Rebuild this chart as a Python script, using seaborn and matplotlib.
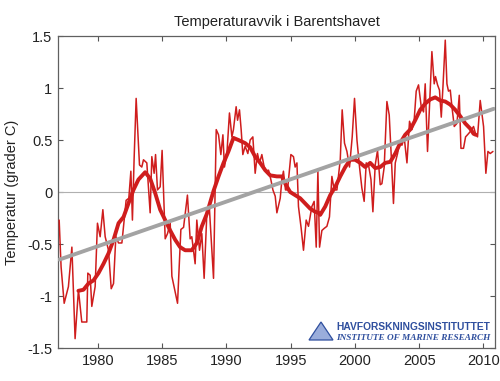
import matplotlib
matplotlib.use("Agg")
import matplotlib.pyplot as plt
import seaborn as sns
import numpy as np
from matplotlib.patches import Polygon

# ---- data ----
obs_year = [1976.99, 1977.14, 1977.38, 1977.71, 1977.98, 1978.23, 1978.49, 1978.75, 1979.14, 1979.22,
            1979.40, 1979.53, 1979.79, 1979.97, 1980.18, 1980.39, 1980.57, 1980.83, 1981.04, 1981.22,
            1981.40, 1981.61, 1981.87, 1982.20, 1982.41, 1982.57, 1982.69, 1982.82, 1982.98, 1983.24,
            1983.42, 1983.55, 1983.81, 1984.07, 1984.20, 1984.38, 1984.49, 1984.64, 1984.85, 1985.00,
            1985.24, 1985.42, 1985.63, 1985.76, 1986.20, 1986.46, 1986.67, 1986.97, 1987.18, 1987.31,
            1987.57, 1987.70, 1987.91, 1988.09, 1988.27, 1988.48, 1988.68, 1988.82, 1989.00, 1989.21,
            1989.39, 1989.57, 1989.73, 1989.85, 1990.04, 1990.24, 1990.43, 1990.55, 1990.76, 1990.87,
            1991.02, 1991.15, 1991.28, 1991.46, 1991.67, 1991.85, 1992.06, 1992.24, 1992.42, 1992.58,
            1992.76, 1992.94, 1993.10, 1993.28, 1993.46, 1993.62, 1993.80, 1993.93, 1994.19, 1994.32,
            1994.44, 1994.60, 1994.76, 1995.02, 1995.22, 1995.35, 1995.49, 1995.61, 1995.82, 1996.00,
            1996.21, 1996.39, 1996.65, 1996.83, 1996.99, 1997.12, 1997.25, 1997.43, 1997.61, 1997.82,
            1998.02, 1998.21, 1998.39, 1998.60, 1998.86, 1999.01, 1999.19, 1999.38, 1999.58, 1999.79,
            1999.97, 2000.16, 2000.36, 2000.54, 2000.72, 2000.88, 2001.06, 2001.25, 2001.40, 2001.58,
            2001.76, 2001.97, 2002.10, 2002.28, 2002.49, 2002.67, 2002.83, 2003.00, 2003.14, 2003.32,
            2003.47, 2003.66, 2003.84, 2004.05, 2004.25, 2004.44, 2004.61, 2004.77, 2004.95, 2005.16,
            2005.34, 2005.47, 2005.65, 2005.81, 2005.99, 2006.17, 2006.27, 2006.43, 2006.58, 2006.72,
            2006.85, 2007.03, 2007.16, 2007.28, 2007.42, 2007.55, 2007.73, 2007.94, 2008.12, 2008.25,
            2008.45, 2008.61, 2008.76, 2008.97, 2009.23, 2009.41, 2009.54, 2009.75, 2010.01, 2010.19,
            2010.35, 2010.53, 2010.74]
obs_temp = [-0.27, -0.72, -1.07, -0.91, -0.53, -1.41, -0.94, -1.25, -1.25, -0.78,
            -0.80, -1.10, -0.91, -0.30, -0.43, -0.17, -0.43, -0.56, -0.93, -0.88,
            -0.43, -0.49, -0.49, -0.08, -0.06, 0.20, -0.27, 0.31, 0.90, 0.26,
            0.24, 0.31, 0.28, -0.20, 0.34, 0.18, 0.36, 0.02, 0.05, 0.40,
            -0.45, -0.40, -0.30, -0.81, -1.07, -0.36, -0.34, -0.03, -0.45, -0.43,
            -0.69, -0.27, -0.56, -0.40, -0.83, -0.21, -0.16, -0.46, -0.83, 0.60,
            0.55, 0.36, 0.55, 0.24, 0.37, 0.76, 0.53, 0.60, 0.82, 0.69,
            0.79, 0.60, 0.36, 0.44, 0.37, 0.50, 0.53, 0.18, 0.37, 0.28,
            0.36, 0.24, 0.20, 0.21, 0.12, 0.02, -0.04, -0.20, -0.06, 0.12,
            0.20, 0.02, 0.02, 0.36, 0.34, 0.24, 0.28, -0.14, -0.35, -0.56,
            -0.27, -0.33, -0.14, -0.09, -0.53, 0.20, -0.53, -0.37, -0.35, -0.33,
            -0.24, 0.15, 0.02, 0.02, 0.31, 0.79, 0.47, 0.39, 0.24, 0.53,
            0.90, 0.50, 0.24, 0.04, -0.09, 0.28, 0.26, 0.12, -0.19, 0.26,
            0.40, 0.07, 0.08, 0.24, 0.87, 0.74, 0.34, -0.11, 0.28, 0.37,
            0.47, 0.45, 0.52, 0.28, 0.68, 0.60, 0.69, 0.97, 1.03, 0.82,
            0.77, 1.04, 0.39, 0.85, 1.35, 1.04, 1.11, 1.03, 0.98, 0.72,
            1.01, 1.46, 1.04, 0.97, 0.98, 0.82, 0.63, 0.66, 0.93, 0.42,
            0.42, 0.53, 0.55, 0.58, 0.63, 0.55, 0.53, 0.88, 0.63, 0.18,
            0.39, 0.37, 0.39]

smooth_year = [1978.49, 1978.88, 1979.27, 1979.66, 1980.05, 1980.44, 1980.83, 1981.22, 1981.61, 1982.00,
               1982.38, 1982.77, 1983.16, 1983.68, 1984.07, 1984.46, 1984.85, 1985.24, 1985.63, 1986.02,
               1986.40, 1986.79, 1987.31, 1987.70, 1988.09, 1988.48, 1989.00, 1989.39, 1989.78, 1990.16,
               1990.55, 1990.94, 1991.46, 1991.85, 1992.24, 1992.63, 1993.02, 1993.41, 1993.93, 1994.32,
               1994.58, 1994.96, 1995.35, 1995.74, 1996.13, 1996.52, 1996.91, 1997.17, 1997.30, 1997.69,
               1998.08, 1998.47, 1998.86, 1999.25, 1999.64, 2000.02, 2000.41, 2000.80, 2001.19, 2001.58,
               2001.97, 2002.36, 2002.75, 2003.14, 2003.52, 2003.91, 2004.30, 2004.69, 2005.08, 2005.47,
               2005.86, 2006.25, 2006.64, 2007.03, 2007.42, 2007.81, 2008.19, 2008.58, 2008.97, 2009.23,
               2009.41]
smooth_temp = [-0.95, -0.94, -0.88, -0.85, -0.78, -0.69, -0.59, -0.46, -0.30, -0.24,
               -0.11, 0.02, 0.12, 0.19, 0.13, -0.01, -0.17, -0.27, -0.37, -0.46,
               -0.53, -0.56, -0.56, -0.49, -0.33, -0.21, 0.01, 0.15, 0.28, 0.39,
               0.52, 0.50, 0.47, 0.43, 0.34, 0.28, 0.21, 0.16, 0.15, 0.15,
               0.08, 0.00, -0.03, -0.06, -0.11, -0.16, -0.19, -0.20, -0.22, -0.14,
               -0.03, 0.05, 0.15, 0.24, 0.31, 0.31, 0.28, 0.24, 0.28, 0.23,
               0.24, 0.28, 0.29, 0.37, 0.47, 0.55, 0.60, 0.69, 0.79, 0.85,
               0.89, 0.91, 0.88, 0.87, 0.84, 0.79, 0.73, 0.66, 0.61, 0.56,
               0.55]

trend_year = [1977.0, 2010.8]
trend_temp = [-0.65, 0.80]

x_ticks = [1980, 1985, 1990, 1995, 2000, 2005, 2010]
y_ticks = [-1.5, -1, -0.5, 0, 0.5, 1, 1.5]
y_tick_labels = ["-1.5", "-1", "-0.5", "0", "0.5", "1", "1.5"]

title = "Temperaturavvik i Barentshavet"
y_label = "Temperatur (grader C)"
logo_name = "HAVFORSKNINGSINSTITUTTET"
logo_sub = "INSTITUTE OF MARINE RESEARCH"

# ---- style ----
sns.set_style("white")
plt.rcParams["font.family"] = ["Liberation Sans", "DejaVu Sans"]

RED = "#cf1d1d"
GRAY = "#a3a3a3"

fig = plt.figure(figsize=(5.0, 3.81), dpi=100)
ax = fig.add_axes([0.116, 0.0866, 0.874, 0.8189])

ax.axhline(0, color="#b0b0b0", lw=0.8, zorder=1)
sns.lineplot(x=obs_year, y=obs_temp, ax=ax, color=RED, lw=1.1,
             estimator=None, sort=False, zorder=3)
sns.lineplot(x=smooth_year, y=smooth_temp, ax=ax, color=RED, lw=2.8,
             estimator=None, sort=False, zorder=4)
sns.lineplot(x=trend_year, y=trend_temp, ax=ax, color=GRAY, lw=2.8,
             estimator=None, sort=False, zorder=5)

ax.set_xlim(1976.9, 2010.9)
ax.set_ylim(-1.5, 1.5)
ax.set_xticks(x_ticks)
ax.set_xticklabels([str(t) for t in x_ticks])
ax.set_yticks(y_ticks)
ax.set_yticklabels(y_tick_labels)
ax.tick_params(direction="in", length=3.5, width=0.8, color="#555555",
               top=True, right=True, bottom=True, left=True,
               labelsize=10.5, labelcolor="#222222", pad=4)
for s in ax.spines.values():
    s.set_color("#606060")
    s.set_linewidth(0.9)
ax.set_xlabel("")
ax.set_ylabel(y_label, fontsize=10.5, color="#222222", labelpad=6)
ax.set_title(title, fontsize=10.5, color="#222222", pad=7)

# ---- logo (Havforskningsinstituttet) ----
BLUE = "#2f4f9e"
W, H = 500.0, 381.0
tri = Polygon([[309 / W, 1 - 340 / H], [333 / W, 1 - 340 / H], [321 / W, 1 - 322 / H]],
              closed=True, transform=fig.transFigure, facecolor="#9aaddb",
              edgecolor=BLUE, lw=0.9, zorder=10)
fig.patches.append(tri)
fig.text(336 / W, 1 - 327.5 / H, logo_name,
         fontweight="bold", fontsize=7.4, color=BLUE, va="center", ha="left")
fig.text(336 / W, 1 - 337.5 / H, logo_sub,
         family=["Liberation Serif", "DejaVu Serif"], fontweight="bold",
         fontstyle="italic", fontsize=6.7, color=BLUE, va="center", ha="left")

fig.savefig("out.png", dpi=100)
